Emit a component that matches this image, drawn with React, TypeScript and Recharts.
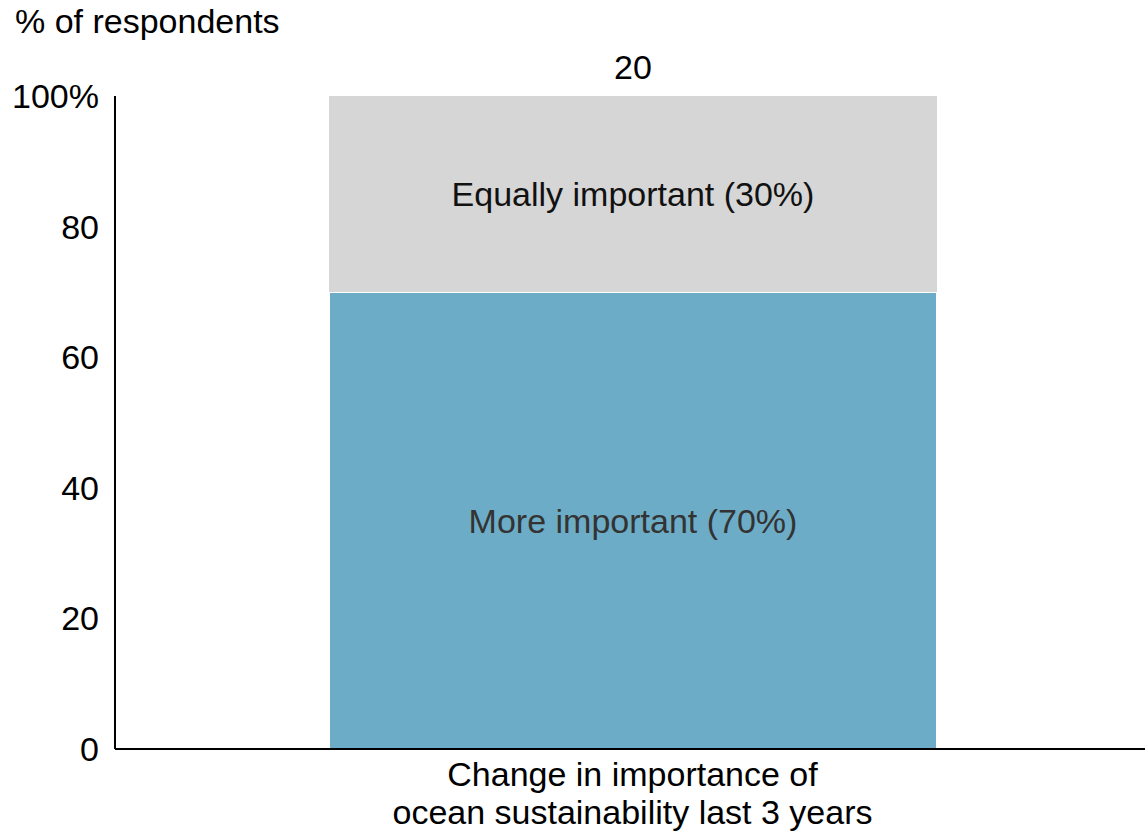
import { BarChart, Bar, XAxis, YAxis, LabelList } from 'recharts';

const categories = ['Change in importance of\nocean sustainability last 3 years'];
const moreImportant = [70];
const equallyImportant = [30];
const respondents = [20];
const yTicks = [0, 20, 40, 60, 80, 100];

const FONT = '"Liberation Sans", Arial, sans-serif';
const FS = 34;

const data = categories.map((name, i) => ({
  name,
  more: moreImportant[i],
  equally: equallyImportant[i],
  n: respondents[i],
}));

function CategoryTick(props: any) {
  const { x, y, payload } = props;
  const lines = String(payload.value).split('\n');
  return (
    <text x={x} y={y} textAnchor="middle" fill="#000" fontSize={FS} fontFamily={FONT}>
      {lines.map((l, i) => (
        <tspan key={i} x={x} dy={i === 0 ? 29 : 38}>{l}</tspan>
      ))}
    </text>
  );
}

export default function App() {
  return (
    <div style={{ position: 'absolute', left: 0, top: 0, background: '#fff' }}>
      <BarChart
        width={1145}
        height={833}
        data={data}
        margin={{ top: 96, right: -5, bottom: 0, left: 0 }}
      >
        <XAxis
          dataKey="name"
          tick={<CategoryTick />}
          tickLine={false}
          axisLine={{ stroke: '#000', strokeWidth: 2 }}
          interval={0}
          height={84}
        />
        <YAxis
          width={115}
          domain={[0, 100]}
          ticks={yTicks}
          tickFormatter={(v: number) => (v === 100 ? '100%' : String(v))}
          tickLine={false}
          tickSize={6}
          tickMargin={10}
          axisLine={{ stroke: '#000', strokeWidth: 2 }}
          tick={{ fill: '#000', fontSize: FS, fontFamily: FONT }}
          label={{
            content: () => (
              <text x={15} y={33} fill="#000" fontSize={FS} fontFamily={FONT}>
                % of respondents
              </text>
            ),
          }}
        />
        <Bar dataKey="more" stackId="a" fill="#6DACC6" stroke="#fff" strokeWidth={2} barSize={608} isAnimationActive={false}>
          <LabelList
            dataKey="more"
            position="center"
            formatter={(v: any) => `More important (${v}%)`}
            fill="#333"
            fontSize={FS}
            fontFamily={FONT}
          />
        </Bar>
        <Bar dataKey="equally" stackId="a" fill="#D6D6D6" barSize={608} isAnimationActive={false}>
          <LabelList
            dataKey="equally"
            position="center"
            formatter={(v: any) => `Equally important (${v}%)`}
            fill="#111"
            fontSize={FS}
            fontFamily={FONT}
          />
          <LabelList
            dataKey="n"
            position="top"
            offset={17}
            fill="#000"
            fontSize={FS}
            fontFamily={FONT}
          />
        </Bar>
      </BarChart>
    </div>
  );
}
